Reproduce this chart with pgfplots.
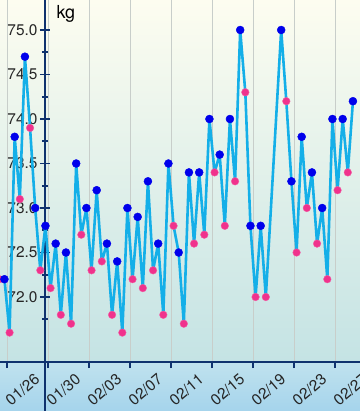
\documentclass[border=0pt]{standalone}
\usepackage{fontspec}
\setmainfont{TeX Gyre Heros}
\usepackage{pgfplots}
\pgfplotsset{compat=1.18}
\usepackage{pgfplotstable}

\definecolor{axisnavy}{RGB}{15,50,110}
\definecolor{linecyan}{RGB}{20,175,232}
\definecolor{markblue}{RGB}{0,0,235}
\definecolor{markpink}{RGB}{240,50,140}
\definecolor{gridgray}{RGB}{200,206,202}
\definecolor{bgtop}{RGB}{253,253,240}
\definecolor{bgmid}{RGB}{229,240,232}
\definecolor{bgbot}{RGB}{196,227,228}
\definecolor{bandtop}{RGB}{192,226,238}
\definecolor{bandbot}{RGB}{165,212,236}

% x = days since 01/26 (morning -0.25, evening +0.25); c: m = morning, e = evening
\pgfplotstableread{
x y c
-0.75 72.2 e
-0.25 72.2 m
0.25 71.6 e
0.75 73.8 m
1.25 73.1 e
1.75 74.7 m
2.25 73.9 e
2.75 73.0 m
3.25 72.3 e
3.75 72.8 m
4.25 72.1 e
4.75 72.6 m
5.25 71.8 e
5.75 72.5 m
6.25 71.7 e
6.75 73.5 m
7.25 72.7 e
7.75 73.0 m
8.25 72.3 e
8.75 73.2 m
9.25 72.4 e
9.75 72.6 m
10.25 71.8 e
10.75 72.4 m
11.25 71.6 e
11.75 73.0 m
12.25 72.2 e
12.75 72.9 m
13.25 72.1 e
13.75 73.3 m
14.25 72.3 e
14.75 72.6 m
15.25 71.8 e
15.75 73.5 m
16.25 72.8 e
16.75 72.5 m
17.25 71.7 e
17.75 73.4 m
18.25 72.6 e
18.75 73.4 m
19.25 72.7 e
19.75 74.0 m
20.25 73.4 e
20.75 73.6 m
21.25 72.8 e
21.75 74.0 m
22.25 73.3 e
22.75 75.0 m
23.25 74.3 e
23.75 72.8 m
24.25 72.0 e
24.75 72.8 m
25.25 72.0 e
26.75 75.0 m
27.25 74.2 e
27.75 73.3 m
28.25 72.5 e
28.75 73.8 m
29.25 73.0 e
29.75 73.4 m
30.25 72.6 e
30.75 73.0 m
31.25 72.2 e
31.75 74.0 m
32.25 73.2 e
32.75 74.0 m
33.25 73.4 e
33.75 74.2 m
}\weights

\begin{document}
\begin{tikzpicture}
\path[use as bounding box, clip] (0bp,-49bp) rectangle (360bp,362bp);
\shade[top color=bgtop, middle color=bgmid, bottom color=bgbot] (0bp,0bp) rectangle (360bp,362bp);
\shade[top color=bandtop, bottom color=bandbot] (0bp,-49bp) rectangle (360bp,0bp);

% main data axis
\begin{axis}[
  at={(0bp,0bp)}, anchor=south west,
  width=360bp, height=362bp, scale only axis,
  xmin=-0.683, xmax=34.439,
  ymin=71.27, ymax=75.337,
  axis x line=bottom, axis y line=none,
  axis line style={-, draw=axisnavy, line width=1.3bp},
  xtick={0,4,...,32},
  xticklabels={01/26,01/30,02/03,02/07,02/11,02/15,02/19,02/23,02/27},
  xticklabel style={font=\fontsize{15.5}{16}\selectfont, text=black!85, anchor=center, xshift=15.5bp, yshift=-21.5bp, rotate=40},
  tick align=outside,
  major tick length=6bp,
  x tick style={draw=axisnavy, line width=1.3bp},
  ytick={72,73,74,75}, yticklabels={},
  y tick style={draw=none},
  xmajorgrids, ymajorgrids,
  x grid style={gridgray, line width=0.9bp},
  y grid style={gridgray, dash pattern=on 6bp off 6bp, line width=1.2bp},
]
\end{axis}

% y axis at a fixed position
\begin{axis}[
  at={(45bp,0bp)}, anchor=south west,
  width=20bp, height=362bp, scale only axis,
  xmin=0, xmax=1, ymin=71.27, ymax=75.337,
  axis x line=none, axis y line=left,
  axis line style={-, draw=axisnavy, line width=2.2bp},
  ytick={72,72.5,...,75},
  minor ytick={71.75,72.25,...,74.75},
  tick align=center,
  major tick length=10bp, minor tick length=6bp,
  y tick style={draw=axisnavy, line width=1.6bp},
  yticklabel style={font=\fontsize{15.5}{16}\selectfont, text=black!85, anchor=east, xshift=1bp},
  yticklabel={\pgfmathprintnumber[fixed, fixed zerofill, precision=1, assume math mode=true]{\tick}},
]
\end{axis}
\draw[axisnavy, line width=2.2bp] (45bp,-49bp) -- (45bp,0bp);

% data on top
\begin{axis}[
  at={(0bp,0bp)}, anchor=south west,
  width=360bp, height=362bp, scale only axis,
  xmin=-0.683, xmax=34.439,
  ymin=71.27, ymax=75.337,
  hide axis, clip=false,
]
\addplot[linecyan, line width=2.6bp, line join=round] table[x=x, y=y] {\weights};
\addplot[scatter, only marks, scatter src=explicit symbolic,
  scatter/classes={
    m={mark=*, mark size=4bp, draw=markblue, fill=markblue},
    e={mark=*, mark size=3.8bp, draw=markpink!80!white, fill=markpink}}
] table[x=x, y=y, meta=c] {\weights};
\end{axis}

\node[anchor=base west, font=\fontsize{18}{18}\selectfont, text=black] at (53bp,343bp) {kg};
\end{tikzpicture}
\end{document}
